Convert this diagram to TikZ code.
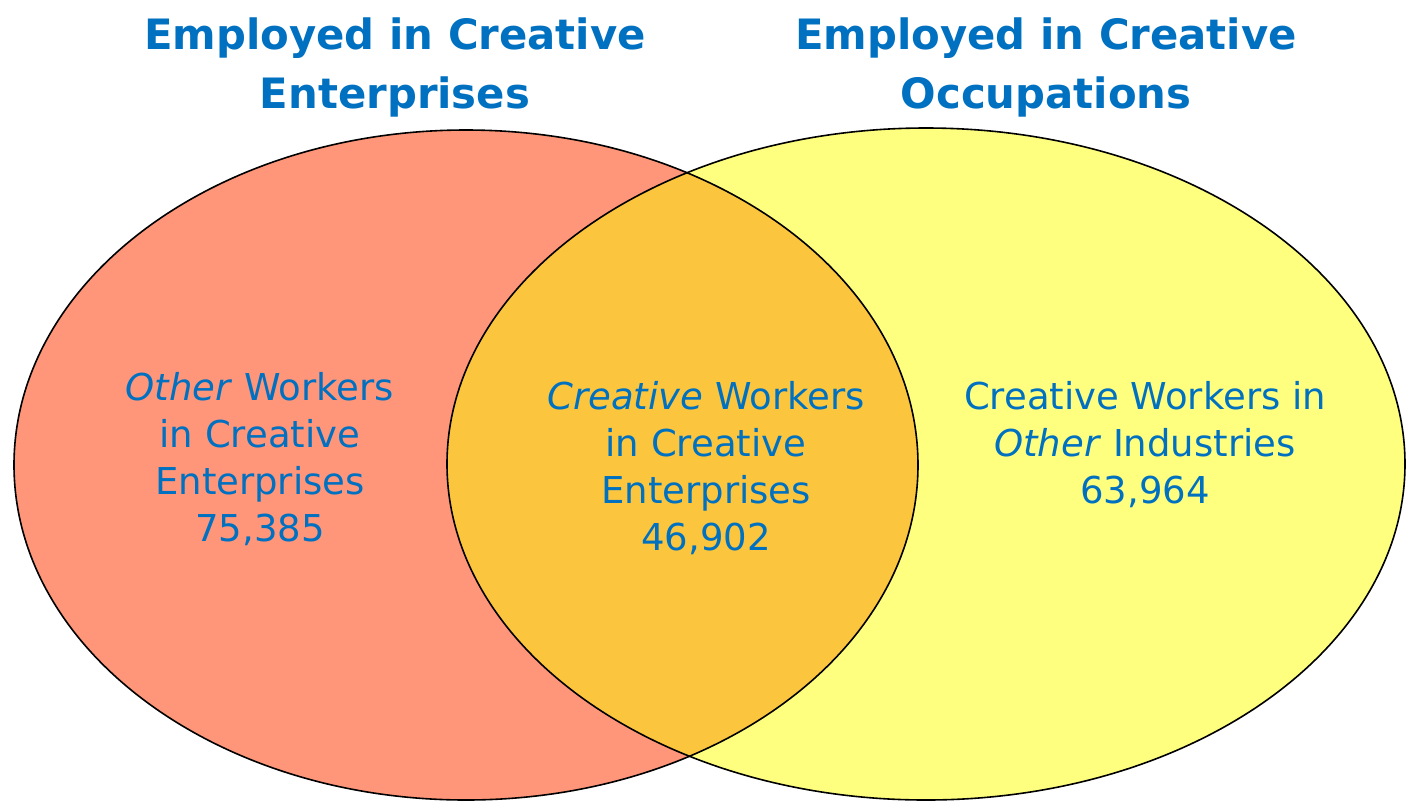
\documentclass[tikz,border=0pt]{standalone}
\usepackage{fontspec}
\setmainfont{DejaVu Sans}
\definecolor{salmon}{HTML}{FF967A}
\definecolor{lyellow}{HTML}{FFFF7F}
\definecolor{overlap}{HTML}{FBC53D}
\definecolor{txtblue}{HTML}{0070C0}
\tikzset{
  venn/.style={draw=black, line width=0.8pt},
  title/.style={text=txtblue, align=center, font=\bfseries\fontsize{20.9}{29.5}\selectfont},
  inner/.style={text=txtblue, align=center, font=\fontsize{18.5}{23.5}\selectfont},
}
\begin{document}
\begin{tikzpicture}[x=0.5pt,y=-0.5pt]
\useasboundingbox (0,0) rectangle (1410,800);
\fill[salmon] (466,465) ellipse [x radius=452, y radius=335];
\fill[lyellow] (926,464) ellipse [x radius=479, y radius=336];
\begin{scope}
  \clip (466,465) ellipse [x radius=452, y radius=335];
  \fill[overlap] (926,464) ellipse [x radius=479, y radius=336];
\end{scope}
\draw[venn] (466,465) ellipse [x radius=452, y radius=335];
\draw[venn] (926,464) ellipse [x radius=479, y radius=336];
\node[title] (t1) at (395,67) {Employed in Creative\\Enterprises};
\node[title] (t2) at (1046,67) {Employed in Creative\\Occupations};
\node[inner] (a) at (260,459) {\textit{Other} Workers\\in Creative\\Enterprises\\75,385};
\node[inner] (b) at (706,468) {\textit{Creative} Workers\\in Creative\\Enterprises\\46,902};
\node[inner] (c) at (1145,445) {Creative Workers in\\\textit{Other} Industries\\63,964};
\end{tikzpicture}
\end{document}
